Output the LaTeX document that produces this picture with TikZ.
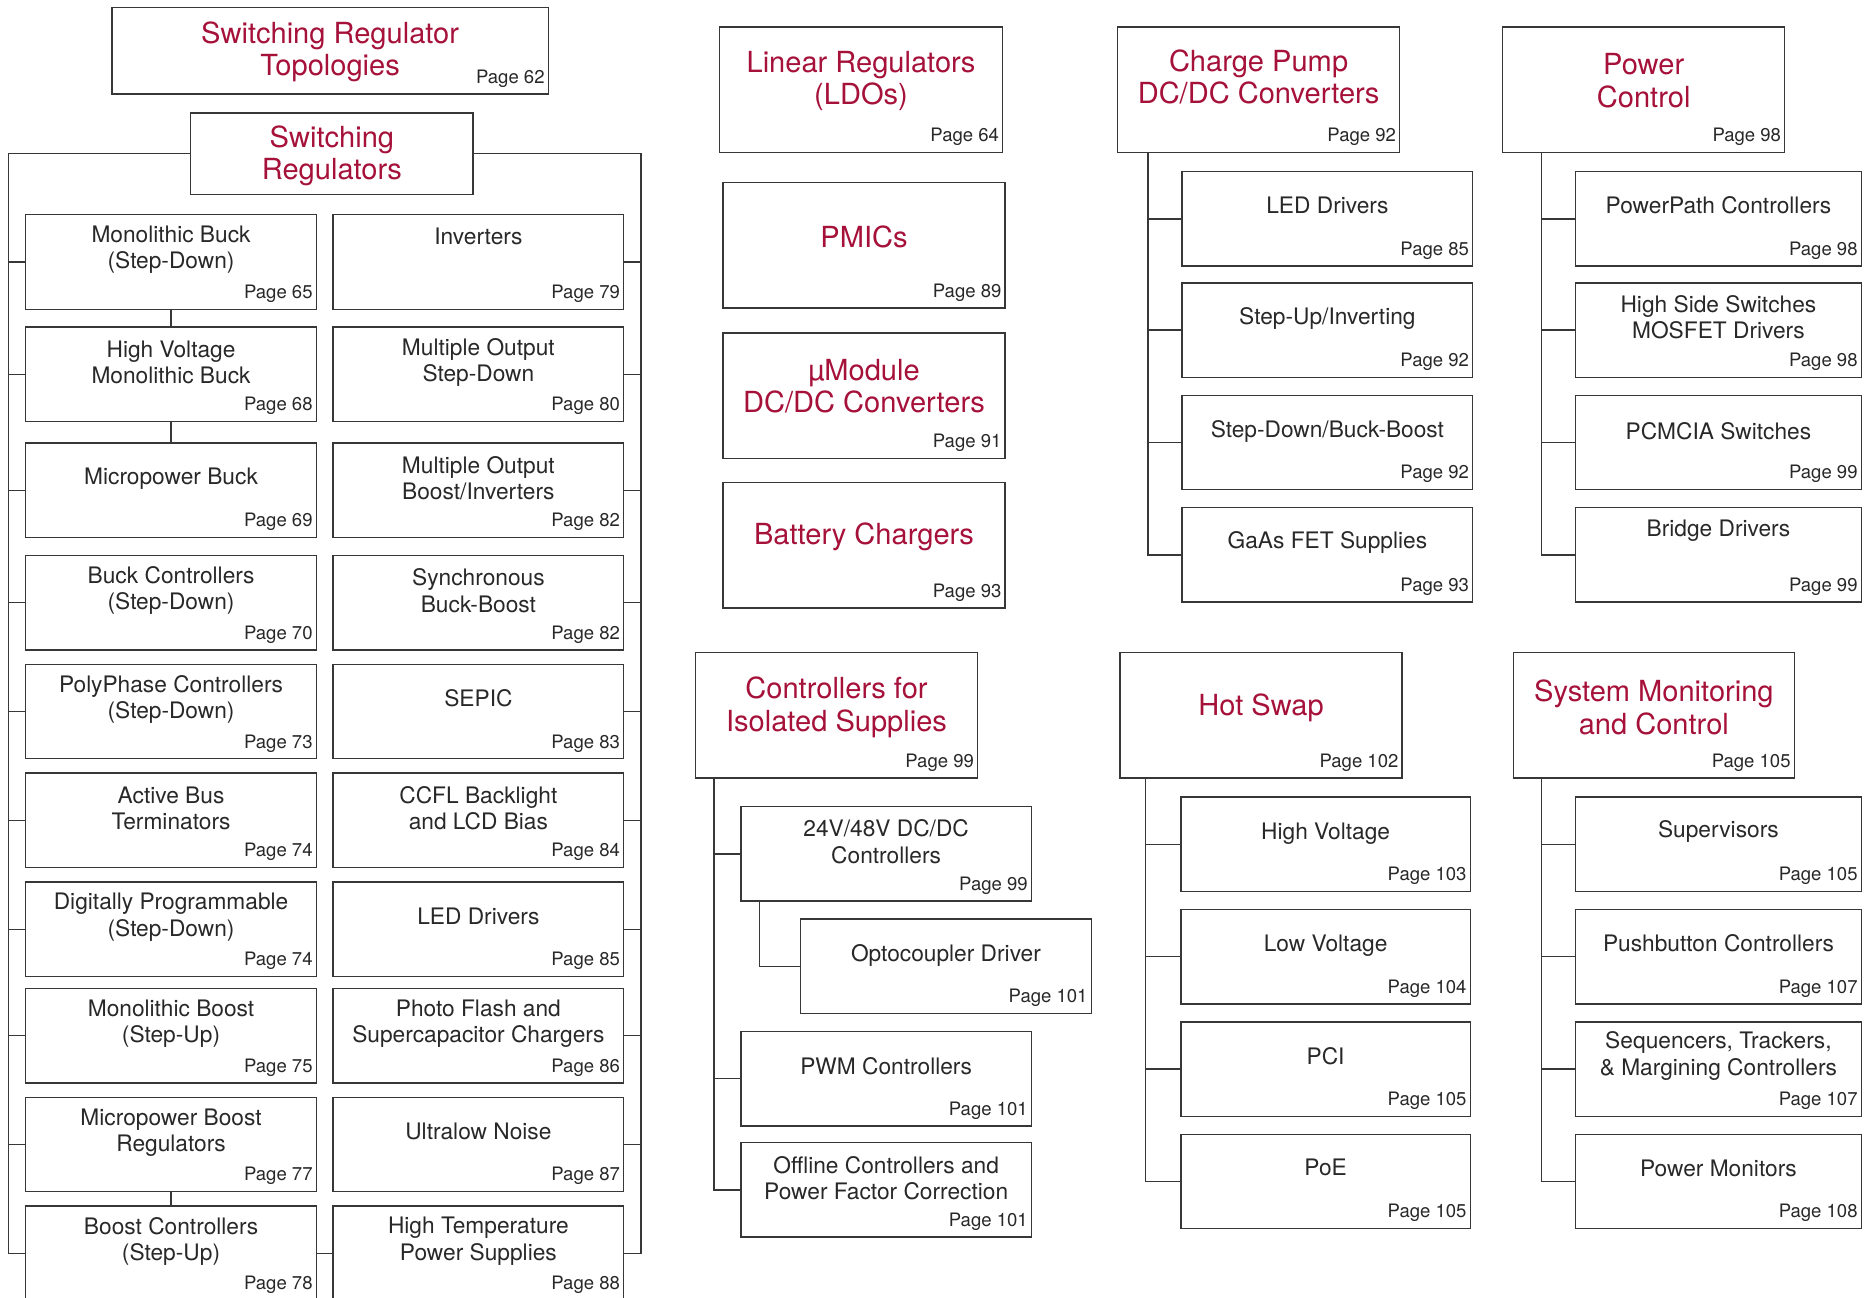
\documentclass[tikz,border=0pt]{standalone}
\usepackage{fontspec}
\setmainfont{TeX Gyre Heros}
\usepackage{tikz}
\usetikzlibrary{calc}
\usepackage{xcolor}

\definecolor{ltred}{RGB}{166,17,58}
\definecolor{boxgray}{RGB}{55,55,55}
\definecolor{txtgray}{RGB}{40,40,40}

\begin{document}
\begin{tikzpicture}[x=1pt, y=-1pt,
    box/.style={draw=boxgray, line width=1.1pt, anchor=north west, inner sep=0pt},
    sub/.style={box, minimum width=243pt, minimum height=79pt},
    head/.style={box, minimum width=236pt, minimum height=105pt},
    ttl/.style={align=center, text=txtgray, font=\fontsize{19}{22}\selectfont},
    rttl/.style={align=center, text=ltred, yshift=-2pt, font=\fontsize{24.3}{27}\selectfont},
    pg/.style={anchor=south east, inner xsep=3.5pt, inner ysep=6pt, text=txtgray,
        font=\fontsize{15.5}{17}\selectfont},
    conn/.style={draw=boxgray, line width=1.1pt}]

    % Page frame (positions taken from the scanned chart, y grows downwards)
    \clip (0,0) rectangle (1568,1085);

    % Switching regulator headers
    \node[box, minimum width=365pt, minimum height=72pt] (topo) at (93,6) {};
    \node[rttl] (topo-t) at ([yshift=-35.5pt]topo.north) {Switching Regulator\\Topologies};
    \node[pg] (topo-p) at (topo.south east) {Page 62};

    \node[box, minimum width=236pt, minimum height=68pt] (swreg) at (159,94) {};
    \node[rttl] (swreg-t) at (swreg.center) {Switching\\Regulators};

    % Left column
    \node[sub] (mbuck) at (21,179) {};
    \node[ttl] (mbuck-t) at ([yshift=-30pt]mbuck.north) {Monolithic Buck\\(Step-Down)};
    \node[pg] (mbuck-p) at (mbuck.south east) {Page 65};

    \node[sub] (hvbuck) at (21,273) {};
    \node[ttl] (hvbuck-t) at ([yshift=-30pt]hvbuck.north) {High Voltage\\Monolithic Buck};
    \node[pg] (hvbuck-p) at (hvbuck.south east) {Page 68};

    \node[sub] (mpbuck) at (21,370) {};
    \node[ttl] (mpbuck-t) at ([yshift=-30pt]mpbuck.north) {Micropower Buck};
    \node[pg] (mpbuck-p) at (mpbuck.south east) {Page 69};

    \node[sub] (buckc) at (21,464) {};
    \node[ttl] (buckc-t) at ([yshift=-30pt]buckc.north) {Buck Controllers\\(Step-Down)};
    \node[pg] (buckc-p) at (buckc.south east) {Page 70};

    \node[sub] (polyph) at (21,555) {};
    \node[ttl] (polyph-t) at ([yshift=-30pt]polyph.north) {PolyPhase Controllers\\(Step-Down)};
    \node[pg] (polyph-p) at (polyph.south east) {Page 73};

    \node[sub] (abus) at (21,646) {};
    \node[ttl] (abus-t) at ([yshift=-30pt]abus.north) {Active Bus\\Terminators};
    \node[pg] (abus-p) at (abus.south east) {Page 74};

    \node[sub] (digprog) at (21,737) {};
    \node[ttl] (digprog-t) at ([yshift=-30pt]digprog.north) {Digitally Programmable\\(Step-Down)};
    \node[pg] (digprog-p) at (digprog.south east) {Page 74};

    \node[sub] (mboost) at (21,826) {};
    \node[ttl] (mboost-t) at ([yshift=-30pt]mboost.north) {Monolithic Boost\\(Step-Up)};
    \node[pg] (mboost-p) at (mboost.south east) {Page 75};

    \node[sub] (mpboost) at (21,917) {};
    \node[ttl] (mpboost-t) at ([yshift=-30pt]mpboost.north) {Micropower Boost\\Regulators};
    \node[pg] (mpboost-p) at (mpboost.south east) {Page 77};

    \node[sub] (boostc) at (21,1008) {};
    \node[ttl] (boostc-t) at ([yshift=-30pt]boostc.north) {Boost Controllers\\(Step-Up)};
    \node[pg] (boostc-p) at (boostc.south east) {Page 78};

    % Right column
    \node[sub] (inv) at (278,179) {};
    \node[ttl] (inv-t) at ([yshift=-19pt]inv.north) {Inverters};
    \node[pg] (inv-p) at (inv.south east) {Page 79};

    \node[sub] (multdn) at (278,273) {};
    \node[ttl] (multdn-t) at ([yshift=-30pt]multdn.north) {Multiple Output\\Step-Down};
    \node[pg] (multdn-p) at (multdn.south east) {Page 80};

    \node[sub] (multbi) at (278,370) {};
    \node[ttl] (multbi-t) at ([yshift=-30pt]multbi.north) {Multiple Output\\Boost/Inverters};
    \node[pg] (multbi-p) at (multbi.south east) {Page 82};

    \node[sub] (syncbb) at (278,464) {};
    \node[ttl] (syncbb-t) at ([yshift=-30pt]syncbb.north) {Synchronous\\Buck-Boost};
    \node[pg] (syncbb-p) at (syncbb.south east) {Page 82};

    \node[sub] (sepic) at (278,555) {};
    \node[ttl] (sepic-t) at ([yshift=-29pt]sepic.north) {SEPIC};
    \node[pg] (sepic-p) at (sepic.south east) {Page 83};

    \node[sub] (ccfl) at (278,646) {};
    \node[ttl] (ccfl-t) at ([yshift=-30pt]ccfl.north) {CCFL Backlight\\and LCD Bias};
    \node[pg] (ccfl-p) at (ccfl.south east) {Page 84};

    \node[sub] (led) at (278,737) {};
    \node[ttl] (led-t) at ([yshift=-29pt]led.north) {LED Drivers};
    \node[pg] (led-p) at (led.south east) {Page 85};

    \node[sub] (flash) at (278,826) {};
    \node[ttl] (flash-t) at ([yshift=-30pt]flash.north) {Photo Flash and\\Supercapacitor Chargers};
    \node[pg] (flash-p) at (flash.south east) {Page 86};

    \node[sub] (ulnoise) at (278,917) {};
    \node[ttl] (ulnoise-t) at ([yshift=-29pt]ulnoise.north) {Ultralow Noise};
    \node[pg] (ulnoise-p) at (ulnoise.south east) {Page 87};

    \node[sub] (hitemp) at (278,1008) {};
    \node[ttl] (hitemp-t) at ([yshift=-30pt]hitemp.north) {High Temperature\\Power Supplies};
    \node[pg] (hitemp-p) at (hitemp.south east) {Page 88};

    % Bracket round both columns
    \draw[conn] (swreg.west) -| ([xshift=-14pt]boostc.west) -- (boostc.west);
    \draw[conn] (swreg.east) -| ([xshift=14pt]hitemp.east) -- (hitemp.east);
    \draw[conn] (mbuck.west) -- ++(-14,0) (hvbuck.west) -- ++(-14,0)
        (mpbuck.west) -- ++(-14,0) (buckc.west) -- ++(-14,0)
        (polyph.west) -- ++(-14,0) (abus.west) -- ++(-14,0)
        (digprog.west) -- ++(-14,0) (mboost.west) -- ++(-14,0)
        (mpboost.west) -- ++(-14,0);
    \draw[conn] (inv.east) -- ++(14,0) (multdn.east) -- ++(14,0)
        (multbi.east) -- ++(14,0) (syncbb.east) -- ++(14,0)
        (sepic.east) -- ++(14,0) (ccfl.east) -- ++(14,0)
        (led.east) -- ++(14,0) (flash.east) -- ++(14,0)
        (ulnoise.east) -- ++(14,0);
    \draw[conn] (mbuck.south) -- (hvbuck.north);
    \draw[conn] (hvbuck.south) -- (mpbuck.north);
    \draw[conn] (mpboost.south) -- (boostc.north);
    \draw[conn] (boostc.east) -- (hitemp.west);

    % Middle column
    \node[head, minimum width=237pt] (ldo) at (601,22) {};
    \node[rttl] (ldo-t) at ([yshift=-43.5pt]ldo.north) {Linear Regulators\\(LDOs)};
    \node[pg] (ldo-p) at (ldo.south east) {Page 64};

    \node[head] (pmic) at (604,152) {};
    \node[rttl] (pmic-t) at ([yshift=-44pt]pmic.north) {PMICs};
    \node[pg] (pmic-p) at (pmic.south east) {Page 89};

    \node[head] (umod) at (604,278) {};
    \node[rttl] (umod-t) at ([yshift=-43pt]umod.north) {µModule\\DC/DC Converters};
    \node[pg] (umod-p) at (umod.south east) {Page 91};

    \node[head] (batt) at (604,403) {};
    \node[rttl] (batt-t) at ([yshift=-44pt]batt.north) {Battery Chargers};
    \node[pg] (batt-p) at (batt.south east) {Page 93};

    % Isolated supplies
    \node[head] (iso) at (581,545) {};
    \node[rttl] (iso-t) at ([yshift=-44.5pt]iso.north) {Controllers for\\Isolated Supplies};
    \node[pg] (iso-p) at (iso.south east) {Page 99};

    \node[sub] (dcdc) at (619,674) {};
    \node[ttl] (dcdc-t) at ([yshift=-30pt]dcdc.north) {24V/48V DC/DC\\Controllers};
    \node[pg] (dcdc-p) at (dcdc.south east) {Page 99};

    \node[sub] (opto) at (669,768) {};
    \node[ttl] (opto-t) at ([yshift=-31pt]opto.north) {Optocoupler Driver};
    \node[pg] (opto-p) at (opto.south east) {Page 101};

    \node[sub] (pwm) at (619,862) {};
    \node[ttl] (pwm-t) at ([yshift=-30pt]pwm.north) {PWM Controllers};
    \node[pg] (pwm-p) at (pwm.south east) {Page 101};

    \node[sub] (offl) at (619,955) {};
    \node[ttl] (offl-t) at ([yshift=-30pt]offl.north) {Offline Controllers and\\Power Factor Correction};
    \node[pg] (offl-p) at (offl.south east) {Page 101};

    \draw[conn] ([xshift=16pt]iso.south west) |- (dcdc.west);
    \draw[conn] ([xshift=16pt]iso.south west) |- (pwm.west);
    \draw[conn] ([xshift=16pt]iso.south west) |- (offl.west);
    \draw[conn] ([xshift=16pt]dcdc.south west) |- (opto.west);

    % Charge pumps
    \node[head] (cpump) at (934,22) {};
    \node[rttl] (cpump-t) at ([yshift=-40.5pt]cpump.north) {Charge Pump\\DC/DC Converters};
    \node[pg] (cpump-p) at (cpump.south east) {Page 92};

    \node[sub] (cpled) at (988,143) {};
    \node[ttl] (cpled-t) at ([yshift=-29pt]cpled.north) {LED Drivers};
    \node[pg] (cpled-p) at (cpled.south east) {Page 85};

    \node[sub] (cpup) at (988,236) {};
    \node[ttl] (cpup-t) at ([yshift=-30pt]cpup.north) {Step-Up/Inverting};
    \node[pg] (cpup-p) at (cpup.south east) {Page 92};

    \node[sub] (cpdown) at (988,330) {};
    \node[ttl] (cpdown-t) at ([yshift=-31pt]cpdown.north) {Step-Down/Buck-Boost};
    \node[pg] (cpdown-p) at (cpdown.south east) {Page 92};

    \node[sub] (gaas) at (988,424) {};
    \node[ttl] (gaas-t) at ([yshift=-30pt]gaas.north) {GaAs FET Supplies};
    \node[pg] (gaas-p) at (gaas.south east) {Page 93};

    \draw[conn] ([xshift=26pt]cpump.south west) |- (cpled.west);
    \draw[conn] ([xshift=26pt]cpump.south west) |- (cpup.west);
    \draw[conn] ([xshift=26pt]cpump.south west) |- (cpdown.west);
    \draw[conn] ([xshift=26pt]cpump.south west) |- (gaas.west);

    % Hot swap
    \node[head] (hswap) at (936,545) {};
    \node[rttl] (hswap-t) at ([yshift=-45pt]hswap.north) {Hot Swap};
    \node[pg] (hswap-p) at (hswap.south east) {Page 102};

    \node[sub, minimum width=242pt] (hshi) at (987,666) {};
    \node[ttl] (hshi-t) at ([yshift=-31pt]hshi.north) {High Voltage};
    \node[pg] (hshi-p) at (hshi.south east) {Page 103};

    \node[sub, minimum width=242pt] (hslo) at (987,760) {};
    \node[ttl] (hslo-t) at ([yshift=-31pt]hslo.north) {Low Voltage};
    \node[pg] (hslo-p) at (hslo.south east) {Page 104};

    \node[sub, minimum width=242pt] (pci) at (987,854) {};
    \node[ttl] (pci-t) at ([yshift=-29pt]pci.north) {PCI};
    \node[pg] (pci-p) at (pci.south east) {Page 105};

    \node[sub, minimum width=242pt] (poe) at (987,948) {};
    \node[ttl] (poe-t) at ([yshift=-28pt]poe.north) {PoE};
    \node[pg] (poe-p) at (poe.south east) {Page 105};

    \draw[conn] ([xshift=22pt]hswap.south west) |- (hshi.west);
    \draw[conn] ([xshift=22pt]hswap.south west) |- (hslo.west);
    \draw[conn] ([xshift=22pt]hswap.south west) |- (pci.west);
    \draw[conn] ([xshift=22pt]hswap.south west) |- (poe.west);

    % Power control
    \node[head] (pwrctl) at (1256,22) {};
    \node[rttl] (pwrctl-t) at ([yshift=-43.5pt]pwrctl.north) {Power\\Control};
    \node[pg] (pwrctl-p) at (pwrctl.south east) {Page 98};

    \node[sub, minimum width=239pt] (ppath) at (1317,143) {};
    \node[ttl] (ppath-t) at ([yshift=-29pt]ppath.north) {PowerPath Controllers};
    \node[pg] (ppath-p) at (ppath.south east) {Page 98};

    \node[sub, minimum width=239pt] (hside) at (1317,236) {};
    \node[ttl] (hside-t) at ([yshift=-29pt]hside.north) {High Side Switches\\MOSFET Drivers};
    \node[pg] (hside-p) at (hside.south east) {Page 98};

    \node[sub, minimum width=239pt] (pcmcia) at (1317,330) {};
    \node[ttl] (pcmcia-t) at ([yshift=-31pt]pcmcia.north) {PCMCIA Switches};
    \node[pg] (pcmcia-p) at (pcmcia.south east) {Page 99};

    \node[sub, minimum width=239pt] (bridge) at (1317,424) {};
    \node[ttl] (bridge-t) at ([yshift=-20pt]bridge.north) {Bridge Drivers};
    \node[pg] (bridge-p) at (bridge.south east) {Page 99};

    \draw[conn] ([xshift=33pt]pwrctl.south west) |- (ppath.west);
    \draw[conn] ([xshift=33pt]pwrctl.south west) |- (hside.west);
    \draw[conn] ([xshift=33pt]pwrctl.south west) |- (pcmcia.west);
    \draw[conn] ([xshift=33pt]pwrctl.south west) |- (bridge.west);

    % System monitoring
    \node[head, minimum width=235pt] (sysmon) at (1265,545) {};
    \node[rttl] (sysmon-t) at ([yshift=-44.5pt]sysmon.north) {System Monitoring\\and Control};
    \node[pg] (sysmon-p) at (sysmon.south east) {Page 105};

    \node[sub, minimum width=239pt] (superv) at (1317,666) {};
    \node[ttl] (superv-t) at ([yshift=-29pt]superv.north) {Supervisors};
    \node[pg] (superv-p) at (superv.south east) {Page 105};

    \node[sub, minimum width=239pt] (pushb) at (1317,760) {};
    \node[ttl] (pushb-t) at ([yshift=-29pt]pushb.north) {Pushbutton Controllers};
    \node[pg] (pushb-p) at (pushb.south east) {Page 107};

    \node[sub, minimum width=239pt] (seq) at (1317,854) {};
    \node[ttl] (seq-t) at ([yshift=-29pt]seq.north) {Sequencers, Trackers,\\\& Margining Controllers};
    \node[pg] (seq-p) at (seq.south east) {Page 107};

    \node[sub, minimum width=239pt] (pmon) at (1317,948) {};
    \node[ttl] (pmon-t) at ([yshift=-29pt]pmon.north) {Power Monitors};
    \node[pg] (pmon-p) at (pmon.south east) {Page 108};

    \draw[conn] ([xshift=24pt]sysmon.south west) |- (superv.west);
    \draw[conn] ([xshift=24pt]sysmon.south west) |- (pushb.west);
    \draw[conn] ([xshift=24pt]sysmon.south west) |- (seq.west);
    \draw[conn] ([xshift=24pt]sysmon.south west) |- (pmon.west);

\end{tikzpicture}
\end{document}
